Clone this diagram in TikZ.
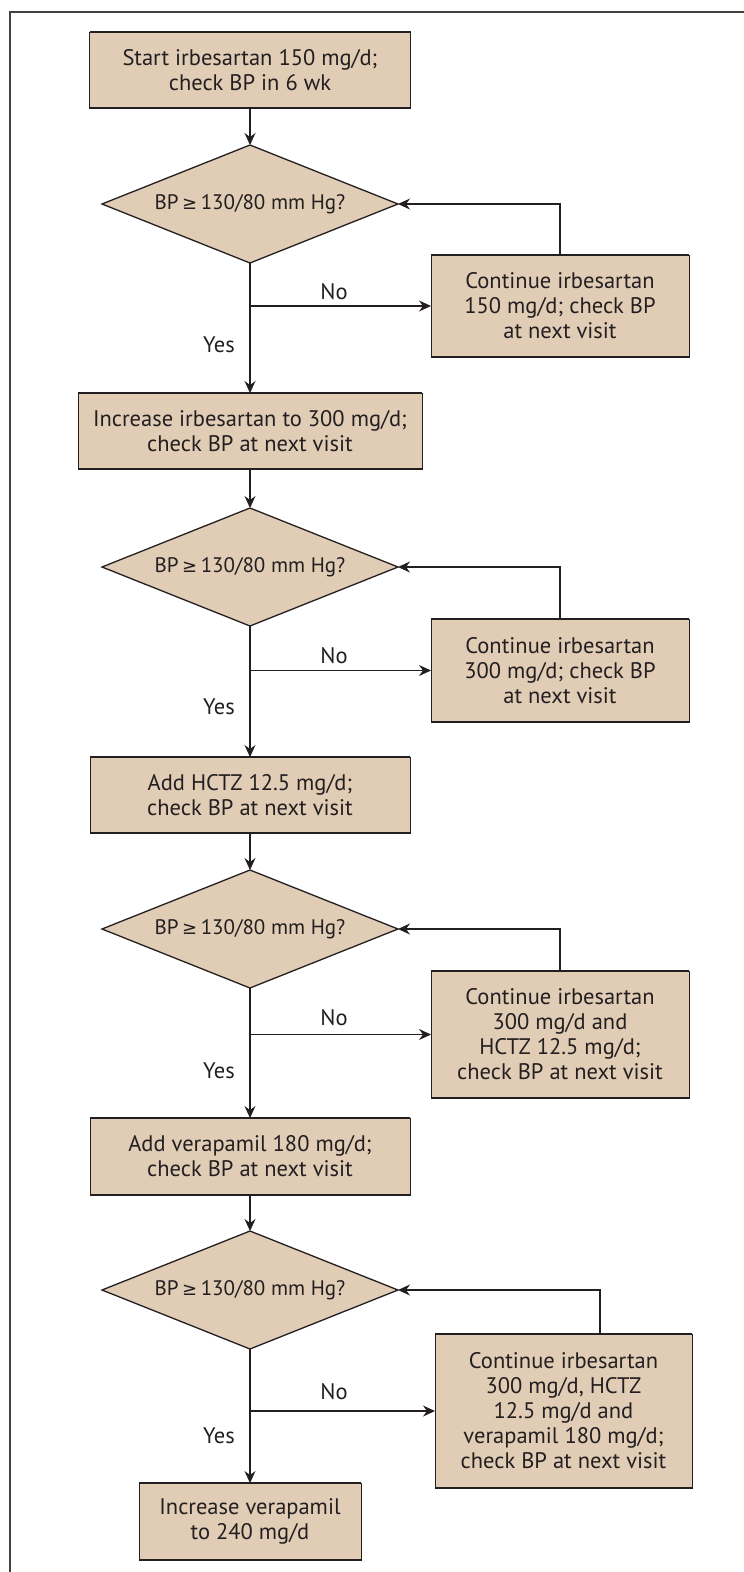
\documentclass[tikz,border=0pt]{standalone}
\usepackage{fontspec}
\setmainfont{PT Sans}
\newfontfamily\symfont{DejaVu Sans}
\usetikzlibrary{arrows.meta,shapes.geometric}
\definecolor{boxfill}{RGB}{225,204,182}
\definecolor{ink}{RGB}{35,31,32}
\newcommand{\geqsym}{{\symfont\fontsize{18}{25}\selectfont ≥}}
\begin{document}
\begin{tikzpicture}[x=1pt,y=-1pt,
  every node/.style={font=\fontsize{22.5}{25}\selectfont, text=ink},
  stepbox/.style={rectangle, draw=ink, line width=1pt, fill=boxfill, align=center, inner sep=0pt, outer sep=0pt},
  decision/.style={diamond, draw=ink, line width=1.3pt, fill=boxfill, aspect=2.5, inner sep=0pt, outer sep=0pt, minimum width=296pt, minimum height=118pt, font=\fontsize{21}{25}\selectfont},
  arr/.style={draw=ink, line width=1.1pt, -{Stealth[length=12pt,width=11pt,inset=4pt]}},
  edgebar/.style={draw=ink, line width=2.4pt},
  lbl/.style={inner sep=0pt}
]
\useasboundingbox (0,0) rectangle (744,1572);
% frame
\draw[draw=ink!85, line width=1.8pt] (744,12) -- (10,12) -- (10,1572);

% nodes
\node[stepbox, minimum width=321pt, minimum height=76pt] (b1) at (250,70) {Start irbesartan 150 mg/d;\\check BP in 6 wk};
\node[decision] (d1) at (250,204) {BP\,\geqsym\,130/80 mm Hg?};
\node[stepbox, minimum width=258pt, minimum height=102pt] (c1) at (560,306) {Continue irbesartan\\150 mg/d; check BP\\at next visit};

\node[stepbox, minimum width=344pt, minimum height=76pt] (b2) at (250,431) {Increase irbesartan to 300 mg/d;\\check BP at next visit};
\node[decision] (d2) at (250,567) {BP\,\geqsym\,130/80 mm Hg?};
\node[stepbox, minimum width=258pt, minimum height=103pt] (c2) at (560,670.5) {Continue irbesartan\\300 mg/d; check BP\\at next visit};

\node[stepbox, minimum width=320pt, minimum height=76pt] (b3) at (250,795) {Add HCTZ 12.5 mg/d;\\check BP at next visit};
\node[decision] (d3) at (250,929) {BP\,\geqsym\,130/80 mm Hg?};
\node[stepbox, minimum width=258pt, minimum height=127pt] (c3) at (560,1034.5) {Continue irbesartan\\300 mg/d and\\HCTZ 12.5 mg/d;\\check BP at next visit};

\node[stepbox, minimum width=320pt, minimum height=77pt] (b4) at (250,1156.5) {Add verapamil 180 mg/d;\\check BP at next visit};
\node[decision] (d4) at (250,1290) {BP\,\geqsym\,130/80 mm Hg?};
\node[stepbox, minimum width=257pt, minimum height=154pt] (c4) at (563.5,1411) {Continue irbesartan\\300 mg/d, HCTZ\\12.5 mg/d and\\verapamil 180 mg/d;\\check BP at next visit};

\node[stepbox, minimum width=222pt, minimum height=77pt] (b5) at (250,1521.5) {Increase verapamil\\to 240 mg/d};

% thicker top and bottom edges of boxes
\foreach \n in {b1,c1,b2,c2,b3,c3,b4,c4,b5}{
  \draw[edgebar] (\n.north west) -- (\n.north east);
  \draw[edgebar] (\n.south west) -- (\n.south east);
}

% main flow
\draw[arr] (b1.south) -- (d1.north);
\draw[arr] (d1.south) -- (b2.north);
\draw[arr] (b2.south) -- (d2.north);
\draw[arr] (d2.south) -- (b3.north);
\draw[arr] (b3.south) -- (d3.north);
\draw[arr] (d3.south) -- (b4.north);
\draw[arr] (b4.south) -- (d4.north);
\draw[arr] (d4.south) -- (b5.north);

% No branches
\draw[arr] (d1.south |- c1.west) -- (c1.west);
\draw[arr] (d2.south |- c2.west) -- (c2.west);
\draw[arr] (d3.south |- c3.west) -- (c3.west);
\draw[arr] (d4.south |- c4.west) -- (c4.west);

% feedback loops
\draw[arr] (c1.north) |- (d1.east);
\draw[arr] (c2.north) |- (d2.east);
\draw[arr] (c3.north) |- (d3.east);
\coordinate (f4) at ([xshift=36.5pt]c4.north);
\draw[arr] (f4) |- (d4.east);

% labels
\node[lbl] (n1) at (334,292) {No};
\node[lbl] (y1) at (219,345) {Yes};
\node[lbl] (n2) at (334,656) {No};
\node[lbl] (y2) at (219,707) {Yes};
\node[lbl] (n3) at (334,1018) {No};
\node[lbl] (y3) at (219,1071) {Yes};
\node[lbl] (n4) at (334,1392) {No};
\node[lbl] (y4) at (219,1436) {Yes};
\end{tikzpicture}
\end{document}
